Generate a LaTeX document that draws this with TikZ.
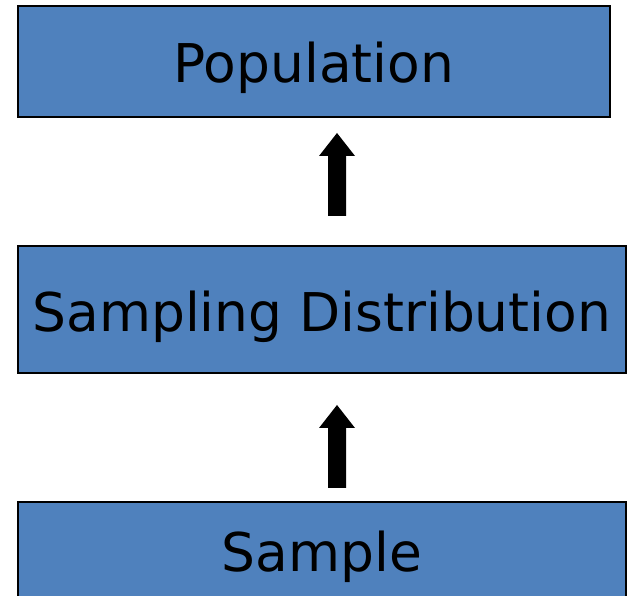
\documentclass[tikz,border=0pt]{standalone}
\usepackage{fontspec}
\setmainfont{DejaVu Sans}
\usetikzlibrary{calc}
\definecolor{boxblue}{HTML}{4F81BD}
\begin{document}
\begin{tikzpicture}[x=1pt,y=1pt,
  stagebox/.style={draw=black, line width=1.6pt, fill=boxblue},
  stagetext/.style={anchor=base, inner sep=0pt, font=\fontsize{53.4}{60}\selectfont},
  blockarrow/.style={fill=black}]
\useasboundingbox (0,0) rectangle (629,596);
\clip (0,0) rectangle (629,596);

% three stacked boxes
\node[stagebox, anchor=south west, minimum width=592, minimum height=111, inner sep=0pt] (pop) at (17,478) {};
\node[stagebox, anchor=south west, minimum width=608, minimum height=127, inner sep=0pt] (dist) at (17,222) {};
\node[stagebox, anchor=south west, minimum width=608, minimum height=103, inner sep=0pt] (samp) at (17,-10) {};

% labels
\node[stagetext] (popt) at (pop.center |- 0,513) {Population};
\node[stagetext] (distt) at (dist.center |- 0,264) {Sampling Distribution};
\node[stagetext] (sampt) at (samp.center |- 0,24) {Sample};

% block arrows between the boxes
\coordinate (a1) at (337,380);
\coordinate (a2) at (337,108);
\foreach \b in {a1,a2}{
  \fill[blockarrow] ($(\b)+(-9,0)$) -- ($(\b)+(9,0)$) -- ($(\b)+(9,60)$) -- ($(\b)+(18,60)$)
    -- ($(\b)+(0,83)$) -- ($(\b)+(-18,60)$) -- ($(\b)+(-9,60)$) -- cycle;
}
\end{tikzpicture}
\end{document}
